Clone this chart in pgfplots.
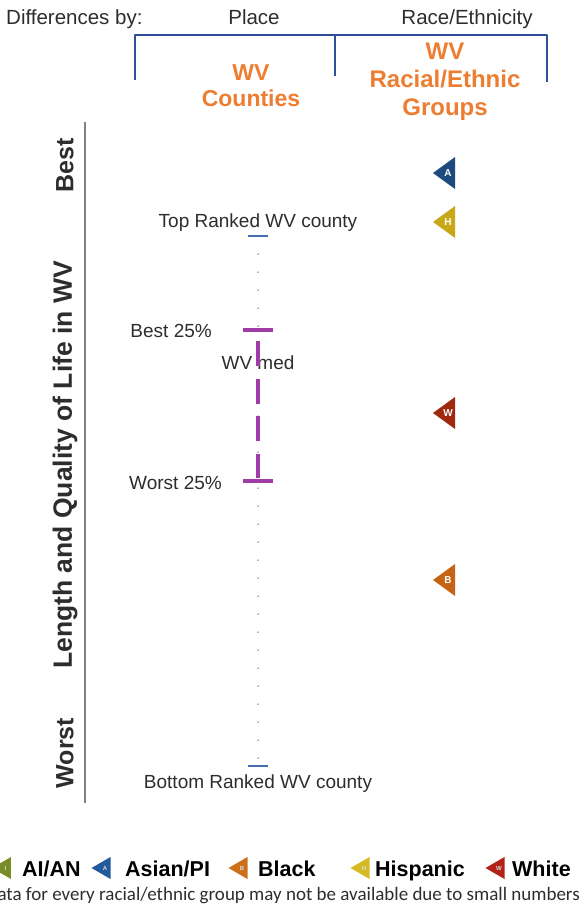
\documentclass[border=0pt]{standalone}
\usepackage{pgfplots}
\pgfplotsset{compat=1.18}
\usepackage{pgfplotstable}
\usepackage{fontspec}
\setmainfont{Liberation Sans}
\newfontfamily\calib{Carlito}
\definecolor{brk}{RGB}{47,78,155}
\definecolor{ttl}{RGB}{237,125,49}
\definecolor{cA}{RGB}{30,75,125}
\definecolor{cH}{RGB}{200,168,25}
\definecolor{cW}{RGB}{160,40,15}
\definecolor{cB}{RGB}{196,100,20}
\definecolor{cG}{RGB}{120,140,40}
\definecolor{lA}{RGB}{35,90,155}
\definecolor{lH}{RGB}{215,185,35}
\definecolor{lW}{RGB}{175,35,25}
\definecolor{lB}{RGB}{205,110,25}
\definecolor{purp}{RGB}{160,60,165}
\definecolor{tickb}{RGB}{70,110,175}
\definecolor{dotc}{RGB}{90,100,130}
\definecolor{txt}{RGB}{45,45,45}
\definecolor{axc}{RGB}{130,130,130}

\pgfdeclareplotmark{ltri}{%
  \pgfpathmoveto{\pgfqpoint{-11pt}{0pt}}%
  \pgfpathlineto{\pgfqpoint{11pt}{16pt}}%
  \pgfpathlineto{\pgfqpoint{11pt}{-16pt}}%
  \pgfpathclose\pgfusepathqfill}
\pgfdeclareplotmark{stri}{%
  \pgfpathmoveto{\pgfqpoint{-9.5pt}{0pt}}%
  \pgfpathlineto{\pgfqpoint{9.5pt}{11pt}}%
  \pgfpathlineto{\pgfqpoint{9.5pt}{-11pt}}%
  \pgfpathclose\pgfusepathqfill}

% Racial/ethnic group positions (x, rank position: smaller = better)
\pgfplotstableread{
x y lab
444 173 A
}\tA
\pgfplotstableread{
x y lab
444 222 H
}\tH
\pgfplotstableread{
x y lab
444 413 W
}\tW
\pgfplotstableread{
x y lab
444 580 B
}\tB

\tikzset{lab/.style={text=txt, font=\fontsize{19}{22}\selectfont, inner sep=0pt, anchor=base},
  hdr/.style={text=txt, font=\fontsize{20.5}{23}\selectfont, inner sep=0pt, anchor=base},
  ttlst/.style={text=ttl, font=\bfseries\fontsize{24}{28}\selectfont, align=center, inner sep=0pt},
  leg/.style={text=black, font=\bfseries\fontsize{21.5}{25}\selectfont, inner sep=0pt, anchor=base west}}

\begin{document}
\begin{tikzpicture}
\path[use as bounding box, clip] (0,0) rectangle (584pt,911pt);
\begin{axis}[at={(0,0)}, anchor=south west, scale only axis,
  width=584pt, height=911pt, xmin=0, xmax=584, ymin=0, ymax=911,
  y dir=reverse, hide axis, clip=false,
  tri/.style={only marks, mark=ltri, nodes near coords={\pgfplotspointmeta},
    point meta=explicit symbolic,
    every node near coord/.style={anchor=center, xshift=4pt, text=white,
      font=\bfseries\fontsize{10}{10}\selectfont}},
  ltr/.style={only marks, mark=stri, nodes near coords={\pgfplotspointmeta},
    point meta=explicit symbolic,
    every node near coord/.style={anchor=center, xshift=4pt, text=white!85!black,
      font=\bfseries\fontsize{6}{6}\selectfont}}]

% header
\node[hdr, anchor=base west] at (axis cs:6,24) {Differences by:};
\node[hdr] at (axis cs:254,24) {Place};
\node[hdr] at (axis cs:467,24) {Race/Ethnicity};
\draw[brk, line width=2.5pt, line join=round] (axis cs:135,80) -- (axis cs:135,35) -- (axis cs:547,35) -- (axis cs:547,82);
\draw[brk, line width=2.5pt] (axis cs:335,35) -- (axis cs:335,76);
\node[ttlst, font=\bfseries\fontsize{23}{26}\selectfont] at (axis cs:251,86) {WV\\Counties};
\node[ttlst] at (axis cs:445,82) {WV\\Racial/Ethnic\\Groups};

% left axis
\addplot[no marks, draw=axc, line width=2pt] coordinates {(85,122) (85,803)};
\node[rotate=90, text=txt, font=\bfseries\fontsize{25}{28}\selectfont] at (axis cs:65,165) {Best};
\node[rotate=90, text=txt, font=\bfseries\fontsize{25}{28}\selectfont] at (axis cs:65,753) {Worst};
\node[rotate=90, text=txt, font=\bfseries\fontsize{26.5}{28}\selectfont] at (axis cs:65,465) {Length and Quality of Life in WV};

% county range
\addplot[no marks, draw=dotc, line width=1.5pt, line cap=round, dash pattern=on 0pt off 18pt] coordinates {(258,236) (258,766)};
\addplot[no marks, draw=tickb, line width=2pt] coordinates {(248,236) (268,236)};
\addplot[no marks, draw=tickb, line width=2pt] coordinates {(248,766) (268,766)};
\addplot[no marks, draw=purp, line width=4pt] coordinates {(243,330) (273,330)};
\addplot[no marks, draw=purp, line width=4pt] coordinates {(243,481) (273,481)};
\node[lab] at (axis cs:258,369) {WV med};
\addplot[no marks, draw=purp, line width=4.5pt, dash pattern=on 25pt off 12.5pt] coordinates {(258,341) (258,478)};
\node[lab] at (axis cs:258,227) {Top Ranked WV county};
\node[lab] at (axis cs:258,788) {Bottom Ranked WV county};
\node[lab, anchor=base east] at (axis cs:212,337) {Best 25\%};
\node[lab, anchor=base east] at (axis cs:222,489) {Worst 25\%};

% racial/ethnic groups
\addplot[tri, color=cA] table[x=x, y=y, meta=lab] {\tA};
\addplot[tri, color=cH] table[x=x, y=y, meta=lab] {\tH};
\addplot[tri, color=cW] table[x=x, y=y, meta=lab] {\tW};
\addplot[tri, color=cB] table[x=x, y=y, meta=lab] {\tB};

% legend
\addplot[ltr, color=cG] coordinates {(1.5,868) [I]};
\addplot[ltr, color=lA] coordinates {(101,868) [A]};
\addplot[ltr, color=lB] coordinates {(238,868) [B]};
\addplot[ltr, color=lH] coordinates {(360,868) [H]};
\addplot[ltr, color=lW] coordinates {(495,868) [W]};
\node[leg] at (axis cs:22,876) {AI/AN};
\node[leg] at (axis cs:125,876) {Asian/PI};
\node[leg] at (axis cs:258,876) {Black};
\node[leg] at (axis cs:375,876) {Hispanic};
\node[leg] at (axis cs:512,876) {White};
\node[anchor=base east, inner sep=0pt, text=txt, font=\calib\fontsize{19}{22}\selectfont] at (axis cs:580,900) {Data for every racial/ethnic group may not be available due to small numbers};
\end{axis}
\end{tikzpicture}
\end{document}
